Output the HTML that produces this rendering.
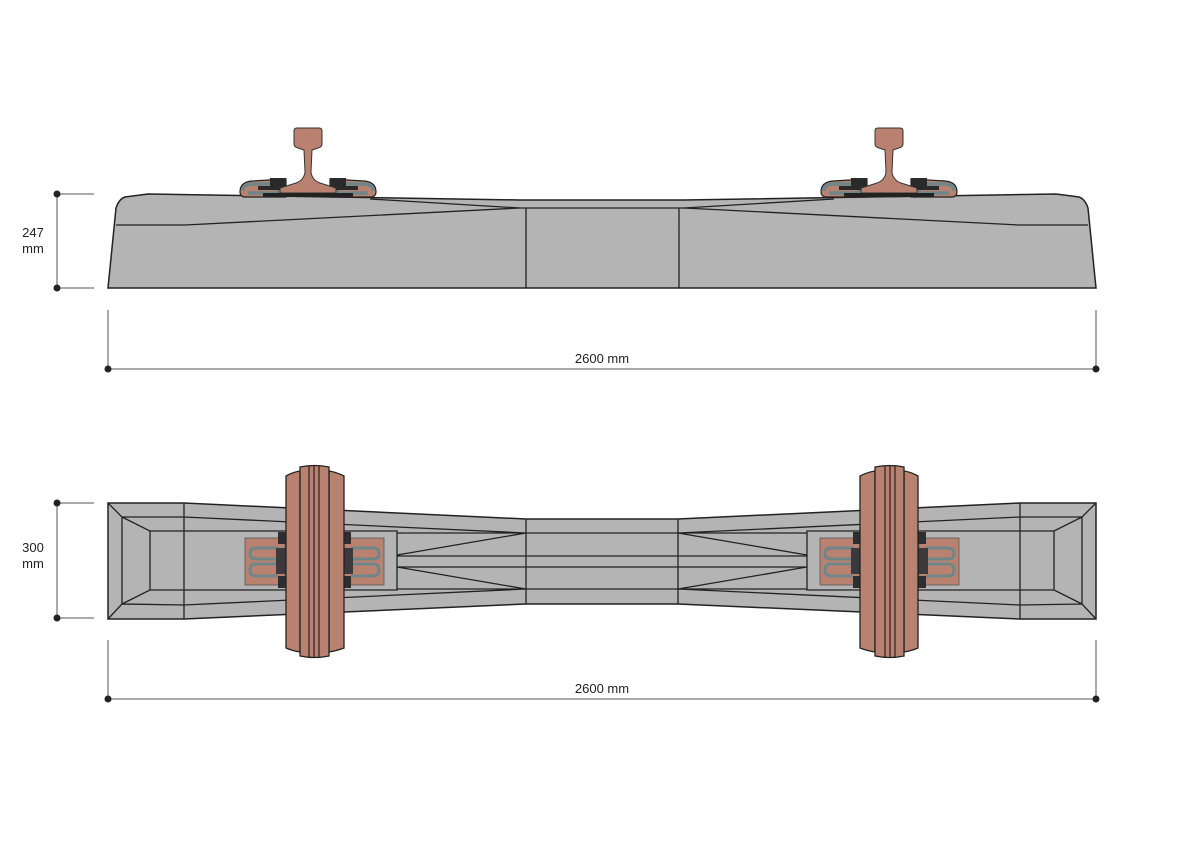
<!DOCTYPE html>
<html><head><meta charset="utf-8"><style>
html,body{margin:0;padding:0;background:#fff;}
svg{display:block}
text{font-family:"Liberation Sans",Arial,sans-serif;font-size:13px;fill:#222}
</style></head><body>
<svg width="1200" height="849" viewBox="0 0 1200 849" xmlns="http://www.w3.org/2000/svg">
<defs>
<g id="rail">
  <path d="M-68,192 Q-68,182 -56,181 L-22,179 L-22,197 L-64,197 Q-68,196 -68,192Z" fill="#b98270" stroke="#222" stroke-width="1.2"/>
  <path d="M-65,191 Q-65,184 -55,184 L-30,184 L-30,193 L-60,193" fill="none" stroke="#6f8688" stroke-width="3.5"/>
  <rect x="-38" y="178" width="16" height="8" fill="#2a2a2a"/>
  <rect x="-50" y="186" width="28" height="4" fill="#2a2a2a"/>
  <path d="M68,192 Q68,182 56,181 L22,179 L22,197 L64,197 Q68,196 68,192Z" fill="#b98270" stroke="#222" stroke-width="1.2"/>
  <path d="M65,191 Q65,184 55,184 L30,184 L30,193 L60,193" fill="none" stroke="#6f8688" stroke-width="3.5"/>
  <rect x="22" y="178" width="16" height="8" fill="#2a2a2a"/>
  <rect x="22" y="186" width="28" height="4" fill="#2a2a2a"/>
  <path d="M-14,131 Q-14,128 -11,128 L11,128 Q14,128 14,131 L14,144 Q14,147 10,148 L4,150 L3,172 Q4,180 12,183 L28,188 L28,193 L-28,193 L-28,188 L-12,183 Q-4,180 -3,172 L-4,150 L-10,148 Q-14,147 -14,144Z" fill="#b98270" stroke="#333" stroke-width="1"/>
  <rect x="-45" y="193" width="90" height="4" fill="#222"/>
</g>
<g id="half">
  <path d="M108,503 L184,503 L526,519 L602,519 L602,604 L526,604 L184,619 L108,619Z" fill="#b4b4b5" stroke="none"/>
  <path d="M602,519 L526,519 L184,503 L108,503 L108,619 L184,619 L526,604 L602,604" fill="none" stroke="#222" stroke-width="1.5"/>
  <path d="M184,503 L184,619 M108,503 L122,517 L122,604 L108,619 M122,517 L184,517 L526,533 M122,604 L184,605 L526,589 M122,517 L150,531 L150,590 L122,604 M150,531 L397,531 L397,590 L150,590 M397,533 L526,533 M397,589 L526,589 M397,555 L526,533 M397,567 L526,589 M397,556 L602,556 M397,567 L602,567 M526,519 L526,604 M526,533 L602,533 M526,589 L602,589" fill="none" stroke="#222" stroke-width="1.3"/>
  <rect x="245" y="538" width="40" height="47" fill="#b98270" stroke="#555" stroke-width="0.8"/>
  <rect x="344" y="538" width="40" height="47" fill="#b98270" stroke="#555" stroke-width="0.8"/>
  <g fill="none" stroke="#6f8688" stroke-width="3">
    <path d="M278,548 L256,548 Q250,548 250,554 Q250,559 256,559 L278,559"/>
    <path d="M278,564 L256,564 Q250,564 250,570 Q250,576 256,576 L278,576"/>
    <path d="M351,548 L373,548 Q379,548 379,554 Q379,559 373,559 L351,559"/>
    <path d="M351,564 L373,564 Q379,564 379,570 Q379,576 373,576 L351,576"/>
  </g>
  <path d="M276,548 L290,548 Q299,553 299,561 Q299,569 290,574 L276,574Z" fill="#3a3a3e"/>
  <path d="M353,548 L339,548 Q330,553 330,561 Q330,569 339,574 L353,574Z" fill="#3a3a3e"/>
  <rect x="278" y="532" width="8" height="12" fill="#2e2e30"/>
  <rect x="278" y="576" width="8" height="12" fill="#2e2e30"/>
  <rect x="343" y="532" width="8" height="12" fill="#2e2e30"/>
  <rect x="343" y="576" width="8" height="12" fill="#2e2e30"/>
  <path d="M286,476 Q293,472 300,471 L300,652 Q293,651 286,648Z" fill="#b98270" stroke="#222" stroke-width="1.3"/>
  <path d="M329,471 Q336,472 344,476 L344,648 Q336,651 329,652Z" fill="#b98270" stroke="#222" stroke-width="1.3"/>
  <path d="M300,467 Q314,464 329,467 L329,656 Q314,659 300,656Z" fill="#b98270" stroke="#222" stroke-width="1.3"/>
  <path d="M309,466 L309,657 M314,465 L314,658 M319,466 L319,657" stroke="#222" stroke-width="1.2"/>
</g>
</defs>

<path d="M108,288 L116,208 Q119,199 125,197 L148,194 L520,200 L684,200 L1056,194 L1079,197 Q1085,199 1088,208 L1096,288Z" fill="#b4b4b5" stroke="#222" stroke-width="1.5"/>
<path d="M116,225 L185,225 L520,208 L684,208 L1019,225 L1088,225 M370,199 L520,208 M834,199 L684,208 M526,208 L526,288 M679,208 L679,288" fill="none" stroke="#222" stroke-width="1.3"/>
<use href="#rail" transform="translate(308,0)"/>
<use href="#rail" transform="translate(889,0)"/>

<g stroke="#555" stroke-width="1" fill="none">
  <path d="M57,194 L94,194 M57,288 L94,288 M57,194 L57,288"/>
  <path d="M108,310 L108,369 M1096,310 L1096,369 M108,369 L1096,369"/>
  <path d="M57,503 L94,503 M57,618 L94,618 M57,503 L57,618"/>
  <path d="M108,640 L108,699 M1096,640 L1096,699 M108,699 L1096,699"/>
</g>
<g fill="#222">
  <circle cx="57" cy="194" r="3.5"/><circle cx="57" cy="288" r="3.5"/>
  <circle cx="108" cy="369" r="3.5"/><circle cx="1096" cy="369" r="3.5"/>
  <circle cx="57" cy="503" r="3.5"/><circle cx="57" cy="618" r="3.5"/>
  <circle cx="108" cy="699" r="3.5"/><circle cx="1096" cy="699" r="3.5"/>
</g>
<text x="33" y="237" text-anchor="middle">247</text>
<text x="33" y="253" text-anchor="middle">mm</text>
<text x="602" y="363" text-anchor="middle">2600 mm</text>
<text x="33" y="552" text-anchor="middle">300</text>
<text x="33" y="568" text-anchor="middle">mm</text>
<text x="602" y="693" text-anchor="middle">2600 mm</text>

<use href="#half"/>
<use href="#half" transform="translate(1204,0) scale(-1,1)"/>
</svg>
</body></html>
